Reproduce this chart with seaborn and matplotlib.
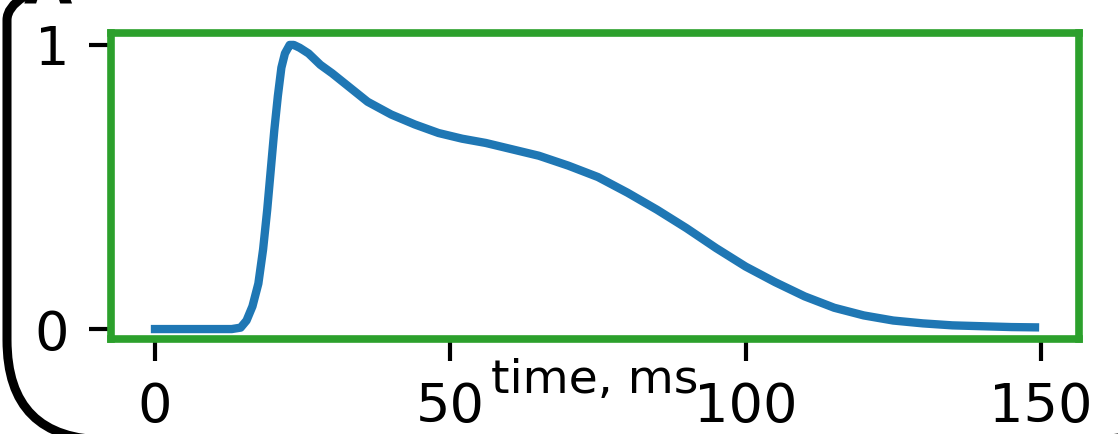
import matplotlib
matplotlib.use("Agg")
import matplotlib.pyplot as plt
from matplotlib.patches import FancyBboxPatch
import seaborn as sns
import pandas as pd

# Normalised optical action potential
time_ms = [0, 5, 10, 13, 14.5, 15.5, 16.5, 17.5, 18.3, 19.0, 19.6, 20.2, 20.8, 21.4,
           22.0, 22.8, 23.5, 24.5, 26, 28, 30, 33, 36, 40, 44, 48, 52, 56, 60,
           65, 70, 75, 80, 85, 90, 95, 100, 105, 110, 115, 120, 125, 130, 135,
           140, 145, 149]
signal = [0.0, 0.0, 0.0, 0.0, 0.005, 0.03, 0.08, 0.16, 0.28, 0.42, 0.56, 0.70, 0.82, 0.92,
          0.97, 1.0, 1.0, 0.99, 0.97, 0.93, 0.90, 0.85, 0.80, 0.755, 0.72, 0.69, 0.67, 0.655, 0.635,
          0.61, 0.575, 0.535, 0.48, 0.42, 0.355, 0.285, 0.22, 0.165, 0.115, 0.075, 0.048, 0.03, 0.02, 0.013,
          0.01, 0.007, 0.006]
xticks = [0, 50, 100, 150]
yticks = [0, 1]
xlabel = "time, ms"

df = pd.DataFrame({"time": time_ms, "signal": signal})

fig = plt.figure(figsize=(11.18, 4.34), dpi=100)
ax = fig.add_axes([111 / 1118, 1 - 339 / 434, (1079 - 111) / 1118, (339 - 33) / 434])

sns.lineplot(data=df, x="time", y="signal", ax=ax, color="#1f77b4", linewidth=6)

ax.set_xlim(-7.45, 156.45)
ax.set_ylim(-0.035, 1.042)
ax.set_xticks(xticks)
ax.set_yticks(yticks)
ax.set_xticklabels([str(v) for v in xticks])
ax.set_yticklabels([str(v) for v in yticks])
ax.tick_params(axis="both", length=16, width=3, pad=14, labelsize=39, colors="black")
for s in ax.spines.values():
    s.set_color("#2ca02c")
    s.set_linewidth(5.5)
ax.set_ylabel("")
ax.set_xlabel(xlabel, fontsize=34)
ax.xaxis.label.set_va("baseline")
ax.xaxis.set_label_coords(0.5, -0.176)

# rounded panel frame (partially visible)
frame = FancyBboxPatch((7, -6), 1185, 520, boxstyle="round,pad=0,rounding_size=100",
                       transform=None, fill=False, edgecolor="black", linewidth=6.5,
                       clip_on=False)
fig.patches.append(frame)
fig.text(24 / 1118, 1 - 4 / 434, "A", fontsize=45, fontweight="bold", va="baseline", ha="left")

fig.savefig("out.png", dpi=100)
